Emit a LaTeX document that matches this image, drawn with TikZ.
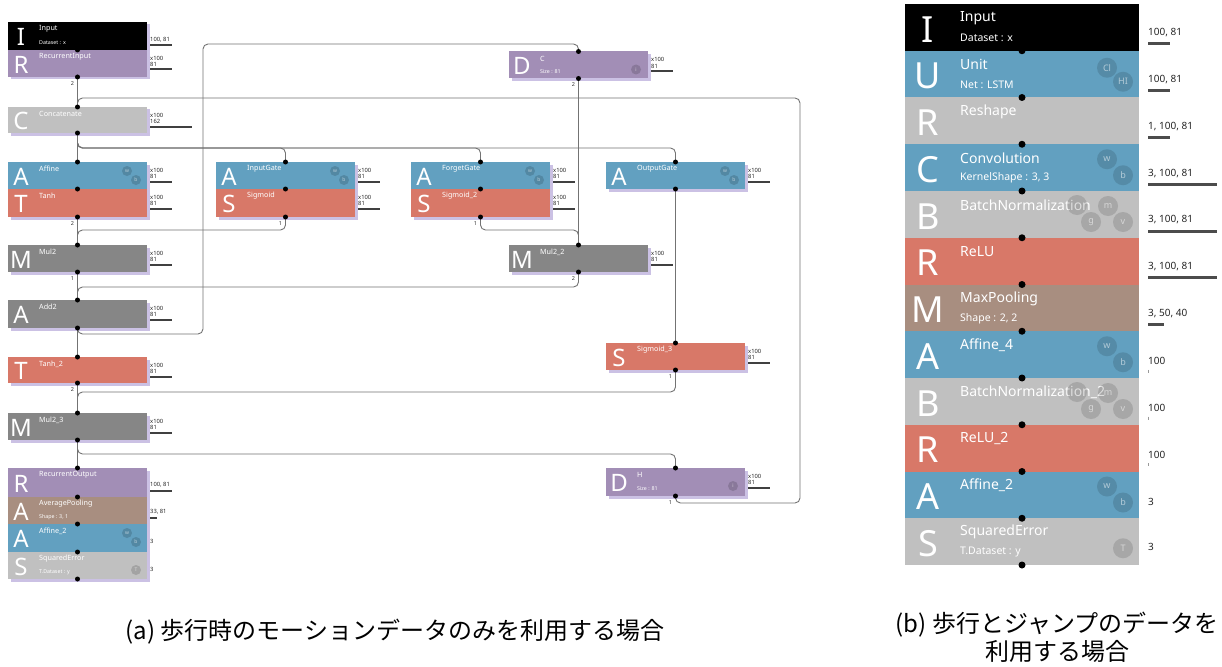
\documentclass[tikz,border=0pt]{standalone}
\usepackage{fontspec}
\setmainfont{Noto Sans}
\newfontfamily\cjk{Noto Sans CJK JP}
\usetikzlibrary{calc,shadows}
\definecolor{cBlack}{HTML}{000000}
\definecolor{cPurple}{HTML}{A28EB6}
\definecolor{cGray}{HTML}{C0C0C0}
\definecolor{cBlue}{HTML}{62A0C0}
\definecolor{cRed}{HTML}{D87868}
\definecolor{cDark}{HTML}{868686}
\definecolor{cBrown}{HTML}{A88E80}
\definecolor{cShadow}{HTML}{CBC1E4}
\tikzset{
 lbox/.style={rectangle, inner sep=0, outer sep=0, anchor=north west, minimum width=139pt, drop shadow={shadow xshift=2.5pt, shadow yshift=-2.5pt, fill=cShadow, opacity=1}},
 rbox/.style={rectangle, inner sep=0, outer sep=0, anchor=north west, minimum width=234pt, minimum height=46.75pt},
 lletter/.style={text=white, font=\fontsize{24}{24}\selectfont, inner sep=0, anchor=center},
 ltitle/.style={text=white, font=\fontsize{7.2}{8}\selectfont, inner sep=0, anchor=west},
 lsub/.style={text=white, font=\fontsize{5.3}{6}\selectfont, inner sep=0, anchor=west},
 lshape/.style={font=\fontsize{5.8}{6}\selectfont, inner sep=0, anchor=west, text=black!85},
 rletter/.style={text=white, font=\fontsize{36}{36}\selectfont, inner sep=0, anchor=center},
 rtitle/.style={text=white, font=\fontsize{14}{15}\selectfont, inner sep=0, anchor=west},
 rsub/.style={text=white, font=\fontsize{10.5}{11}\selectfont, inner sep=0, anchor=west},
 rshape/.style={font=\fontsize{10}{11}\selectfont, inner sep=0, anchor=west, text=black!85},
 bar/.style={line width=2pt, draw=black!75},
 rbar/.style={line width=3pt, draw=black!70},
 conn/.style={draw=black!55, line width=0.9pt, rounded corners=5pt},
 dot/.style={circle, fill=black, inner sep=0, minimum size=5pt},
 rdot/.style={circle, fill=black, inner sep=0, minimum size=7pt},
 port/.style={font=\fontsize{5.5}{6}\selectfont, inner sep=0, text=black!80},
 lpar/.style={circle, fill=black, fill opacity=0.15, inner sep=0, minimum size=10pt, text=white, text opacity=0.6, font=\fontsize{5}{5}\selectfont},
 rpar/.style={circle, fill=black, fill opacity=0.13, inner sep=0, minimum size=20pt, text=white, text opacity=0.55, font=\fontsize{9}{9}\selectfont},
 captxt/.style={font=\cjk\fontsize{24}{28}\selectfont, inner sep=0, text=black},
}
\newcommand\mkL[8]{%
 \node[lbox, fill=#5, minimum height=#4pt] (#1) at (#2,#3) {};
 \node[lletter] at ($(#1.west)+(13,1)$) {#6};
 \node[ltitle] at ($(#1.north west)+(31,7)$) {#7};
 \node[lsub] at ($(#1.north west)+(31,20.5)$) {#8};
}
\newcommand\mkR[6]{%
 \node[rbox, fill=#3] (#1) at (905,#2) {};
 \node[rletter] at ($(#1.west)+(23,2)$) {#4};
 \node[rtitle] at ($(#1.north west)+(55,14)$) {#5};
 \node[rsub] at ($(#1.north west)+(55,34)$) {#6};
}
\newcommand\dimL[3]{%
 \node[lshape] at ($(#1.north east)+(3,8)$) {x100};
 \node[lshape] at ($(#1.north east)+(3,14.5)$) {#2};
 \draw[bar] ($(#1.north east)+(3,19.5)$) -- ++(#3,0);
}
\newcommand\wbL[1]{%
 \node[lpar] at ($(#1.north east)+(-20,9)$) {w};
 \node[lpar] at ($(#1.north east)+(-11,18)$) {b};
}
\newcommand\wbR[1]{%
 \node[rpar] at ($(#1.north east)+(-32,15)$) {w};
 \node[rpar] at ($(#1.north east)+(-16,31)$) {b};
}
\begin{document}
\begin{tikzpicture}[x=1pt,y=-1pt]
\useasboundingbox (0,0) rectangle (1222,666);
\fill[white] (0,0) rectangle (1222,666);

% ---------- (a) left column ----------
\mkL{In}{8}{22}{28}{cBlack}{I}{Input}{Dataset : x}
\mkL{RIn}{8}{50}{27}{cPurple}{R}{RecurrentInput}{}
\mkL{Cat}{8}{107}{26}{cGray}{C}{Concatenate}{}
\mkL{Aff}{8}{162}{27}{cBlue}{A}{Affine}{}
\mkL{Tanh}{8}{189}{28}{cRed}{T}{Tanh}{}
\mkL{Mul2}{8}{245}{27}{cDark}{M}{Mul2}{}
\mkL{Add2}{8}{300}{28}{cDark}{A}{Add2}{}
\mkL{Tanh2}{8}{357}{26}{cRed}{T}{Tanh\_2}{}
\mkL{Mul23}{8}{413}{27}{cDark}{M}{Mul2\_3}{}
\mkL{ROut}{8}{468}{29}{cPurple}{R}{RecurrentOutput}{}
\mkL{AvgP}{8}{497}{27}{cBrown}{A}{AveragePooling}{Shape : 3, 1}
\mkL{Aff2}{8}{524}{28}{cBlue}{A}{Affine\_2}{}
\mkL{SqE}{8}{552}{27}{cGray}{S}{SquaredError}{T.Dataset : y}
% middle
\mkL{IG}{216}{162}{27}{cBlue}{A}{InputGate}{}
\mkL{Sig}{216}{189}{28}{cRed}{S}{Sigmoid}{}
\mkL{FG}{411}{162}{27}{cBlue}{A}{ForgetGate}{}
\mkL{Sig2}{411}{189}{28}{cRed}{S}{Sigmoid\_2}{}
\mkL{OG}{606}{162}{27}{cBlue}{A}{OutputGate}{}
\mkL{DC}{509}{51.5}{27}{cPurple}{D}{C}{Size : 81}
\mkL{Mul22}{509}{245}{27}{cDark}{M}{Mul2\_2}{}
\mkL{Sig3}{606}{343}{27}{cRed}{S}{Sigmoid\_3}{}
\mkL{H}{606}{468}{28}{cPurple}{D}{H}{Size : 81}

\wbL{Aff}\wbL{IG}\wbL{FG}\wbL{OG}\wbL{Aff2}
\node[lpar] at ($(DC.north east)+(-12,18)$) {i};
\node[lpar] at ($(H.north east)+(-12,18)$) {i};
\node[lpar] at ($(SqE.north east)+(-11,18)$) {T};

% shape labels
\node[lshape] at ($(In.north east)+(3,18)$) {100, 81};
\draw[bar] ($(In.north east)+(3,23.5)$) -- ++(22,0);
\dimL{RIn}{81}{22}
\dimL{Cat}{162}{42}
\dimL{Aff}{81}{22}
\dimL{Tanh}{81}{22}
\dimL{Mul2}{81}{22}
\dimL{Add2}{81}{22}
\dimL{Tanh2}{81}{22}
\dimL{Mul23}{81}{22}
\dimL{IG}{81}{22}
\dimL{Sig}{81}{22}
\dimL{FG}{81}{22}
\dimL{Sig2}{81}{22}
\dimL{OG}{81}{22}
\dimL{DC}{81}{22}
\dimL{Mul22}{81}{22}
\dimL{Sig3}{81}{22}
\dimL{H}{81}{22}
\node[lshape] at ($(ROut.north east)+(3,17)$) {100, 81};
\draw[bar] ($(ROut.north east)+(3,23)$) -- ++(22,0);
\node[lshape] at ($(AvgP.north east)+(3,15)$) {33, 81};
\draw[bar] ($(AvgP.north east)+(3,21)$) -- ++(7,0);
\node[lshape] at ($(Aff2.north east)+(3,17)$) {3};
\node[lshape] at ($(SqE.north east)+(3,17)$) {3};

% connectors
\draw[conn] (RIn.south) -- (Cat.north);
\draw[conn] (H.south) -- ++(0,7) -| (800,98) -| (Cat.north);
\draw[conn] (Cat.south) -- (Aff.north);
\draw[conn] (Cat.south) -- ++(0,15) -| (IG.north);
\draw[conn] (Cat.south) -- ++(0,15) -| (FG.north);
\draw[conn] (Cat.south) -- ++(0,15) -| (OG.north);
\draw[conn] (Tanh.south) -- (Mul2.north);
\draw[conn] (Sig.south) -- ++(0,13) -| (Mul2.north);
\draw[conn] (Sig2.south) -- ++(0,13) -| (Mul22.north);
\draw[conn] (DC.south) -- (Mul22.north);
\draw[conn] (Mul2.south) -- (Add2.north);
\draw[conn] (Mul22.south) -- ++(0,15) -| (Add2.north);
\draw[conn] (Add2.south) -- (Tanh2.north);
\draw[conn] (Add2.south) -- ++(0,6) -| (203,44) -| (DC.north);
\draw[conn] (Tanh2.south) -- (Mul23.north);
\draw[conn] (Sig3.south) -- ++(0,22) -| (Mul23.north);
\draw[conn] (OG.south) -- (Sig3.north);
\draw[conn] (Mul23.south) -- (ROut.north);
\draw[conn] (Mul23.south) -- ++(0,14) -| (H.north);

% dots
\foreach \a in {In.south,RIn.south,Cat.north,Cat.south,Aff.north,Aff.south,Tanh.south,
 Mul2.north,Mul2.south,Add2.north,Add2.south,Tanh2.north,Tanh2.south,Mul23.north,Mul23.south,
 ROut.north,ROut.south,AvgP.south,Aff2.south,SqE.south,IG.north,IG.south,Sig.south,
 FG.north,FG.south,Sig2.south,OG.north,OG.south,DC.north,DC.south,Mul22.north,Mul22.south,
 Sig3.north,Sig3.south,H.north,H.south}
 \node[dot] at (\a) {};

% port labels
\foreach \a/\t in {RIn/2,Tanh/2,Sig/1,Sig2/1,Mul2/1,Mul22/2,Tanh2/2,Sig3/1,DC/2,H/1}
 \node[port] at ($(\a.south)+(-5,6.5)$) {\t};

% ---------- (b) right column ----------
\mkR{rIn}{4}{cBlack}{I}{Input}{Dataset : x}
\mkR{rU}{50.75}{cBlue}{U}{Unit}{Net : LSTM}
\mkR{rRs}{97.5}{cGray}{R}{Reshape}{}
\mkR{rCv}{144.25}{cBlue}{C}{Convolution}{KernelShape : 3, 3}
\mkR{rBN}{191}{cGray}{B}{BatchNormalization}{}
\mkR{rRe}{237.75}{cRed}{R}{ReLU}{}
\mkR{rMP}{284.5}{cBrown}{M}{MaxPooling}{Shape : 2, 2}
\mkR{rA4}{331.25}{cBlue}{A}{Affine\_4}{}
\mkR{rBN2}{378}{cGray}{B}{BatchNormalization\_2}{}
\mkR{rRe2}{424.75}{cRed}{R}{ReLU\_2}{}
\mkR{rA2}{471.5}{cBlue}{A}{Affine\_2}{}
\mkR{rSq}{518.25}{cGray}{S}{SquaredError}{T.Dataset : y}

\node[rpar] at ($(rU.north east)+(-32,17)$) {Cl};
\node[rpar] at ($(rU.north east)+(-16,31)$) {HI};
\wbR{rCv}\wbR{rA4}\wbR{rA2}
\foreach \n in {rBN,rBN2}{
 \node[rpar] at ($(\n.north east)+(-62,14)$) {};
 \node[rpar] at ($(\n.north east)+(-31,15)$) {m};
 \node[rpar] at ($(\n.north east)+(-48,31)$) {g};
 \node[rpar] at ($(\n.north east)+(-16,31)$) {v};
}
\node[rpar] at ($(rSq.north east)+(-16,30)$) {T};

\foreach \a in {rIn.south,rU.south,rRs.south,rCv.south,rBN.south,rRe.south,rMP.south,
 rA4.south,rBN2.south,rRe2.south,rA2.south,rSq.south}
 \node[rdot] at (\a) {};

\foreach \n/\t/\l in {rIn/{100, 81}/22,rU/{100, 81}/22,rRs/{1, 100, 81}/22,rCv/{3, 100, 81}/69,
 rBN/{3, 100, 81}/69,rRe/{3, 100, 81}/69,rMP/{3, 50, 40}/16}{
 \node[rshape] at ($(\n.north east)+(9,29)$) {\t};
 \draw[rbar] ($(\n.north east)+(9,40)$) -- ++(\l,0);
}
\foreach \n/\t in {rA4/100,rBN2/100,rRe2/100}{
 \node[rshape] at ($(\n.north east)+(9,30)$) {\t};
 \draw[black!40, line width=0.8pt] ($(\n.north east)+(9.5,38.5)$) -- ++(0,3);
}
\node[rshape] at ($(rA2.north east)+(9,30)$) {3};
\node[rshape] at ($(rSq.north east)+(9,29)$) {3};

% captions
\node[captxt] (capA) at (395,632) {(a) 歩行時のモーションデータのみを利用する場合};
\node[captxt, align=center] (capB) at (1057,637) {(b) 歩行とジャンプのデータを\\利用する場合};
\end{tikzpicture}
\end{document}
